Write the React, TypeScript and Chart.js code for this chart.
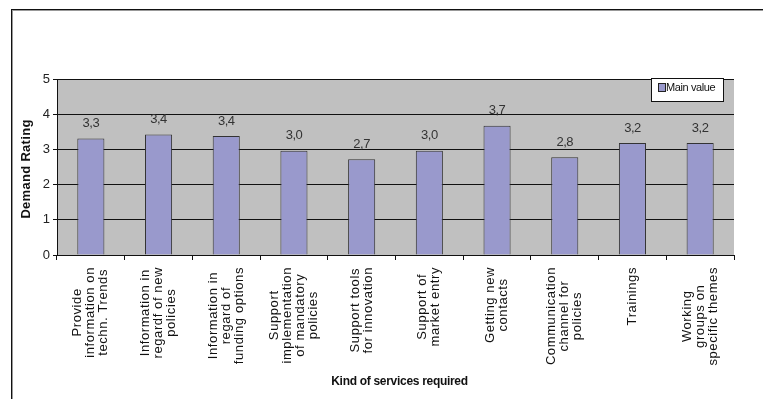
import React, { useEffect, useRef } from "react";
import { Chart, registerables } from "chart.js";

Chart.register(...registerables);

const categories: string[][] = [
  ["Provide", "information on", "techn. Trends"],
  ["Information in", "regardf of new", "policies"],
  ["Information in", "regard of", "funding options"],
  ["Support", "implementation", "of mandatory", "policies"],
  ["Support tools", "for innovation"],
  ["Support of", "market entry"],
  ["Getting new", "contacts"],
  ["Communication", "channel for", "policies"],
  ["Trainings"],
  ["Working", "groups on", "specific themes"],
];
const mainValues = [3.31, 3.42, 3.38, 2.96, 2.72, 2.96, 3.67, 2.78, 3.18, 3.18];
const seriesName = "Main value";
const yTitle = "Demand Rating";
const xTitle = "Kind of services required";
const yMin = 0;
const yMax = 5;
const yStep = 1;

const BAR_FILL = "#9999CC";
const PLOT_BG = "#C0C0C0";

const customPlugin = {
  id: "customDraw",
  beforeDraw(chart: any) {
    const { ctx, chartArea } = chart;
    ctx.save();
    ctx.fillStyle = "#ffffff";
    ctx.fillRect(0, 0, chart.width, chart.height);
    ctx.fillStyle = "#111111";
    ctx.fillRect(11, 9, 1, chart.height);
    ctx.fillRect(11, 9, chart.width, 1);
    ctx.fillStyle = "#999999";
    ctx.fillRect(12, 10, 1, chart.height);
    ctx.fillRect(12, 10, chart.width, 1);
    ctx.fillStyle = PLOT_BG;
    ctx.fillRect(
      chartArea.left,
      chartArea.top,
      chartArea.right - chartArea.left,
      chartArea.bottom - chartArea.top
    );
    ctx.restore();
  },
  afterDatasetsDraw(chart: any) {
    const { ctx } = chart;
    const meta = chart.getDatasetMeta(0);
    ctx.save();
    ctx.font = "13px Arial, 'Liberation Sans', sans-serif";
    (ctx as any).letterSpacing = "-0.5px";
    ctx.fillStyle = "#333333";
    ctx.textAlign = "center";
    ctx.textBaseline = "middle";
    meta.data.forEach((bar: any, i: number) => {
      const txt = mainValues[i].toFixed(1).replace(".", ",");
      ctx.fillText(txt, bar.x, bar.y - 15);
    });
    ctx.restore();
  },
  afterDraw(chart: any) {
    const { ctx, chartArea } = chart;
    const xs = chart.scales.x;
    ctx.save();
    ctx.font = "13px Arial, 'Liberation Sans', sans-serif";
    (ctx as any).letterSpacing = "0.6px";
    ctx.fillStyle = "#111111";
    ctx.textAlign = "center";
    ctx.textBaseline = "middle";
    const lh = 13;
    categories.forEach((lines, i) => {
      const cx = xs.getPixelForValue(i);
      let maxW = 0;
      lines.forEach((l) => {
        maxW = Math.max(maxW, ctx.measureText(l).width);
      });
      ctx.save();
      ctx.translate(cx, xs.top + 12);
      ctx.rotate(-Math.PI / 2);
      const n = lines.length;
      lines.forEach((l, k) => {
        ctx.fillText(l, -maxW / 2, (k - (n - 1) / 2) * lh);
      });
      ctx.restore();
    });
    ctx.restore();

    ctx.save();
    ctx.fillStyle = "#111111";
    ctx.textAlign = "center";
    ctx.textBaseline = "middle";
    ctx.font = "bold 12px Arial, 'Liberation Sans', sans-serif";
    (ctx as any).letterSpacing = "-0.3px";
    ctx.fillText(xTitle, (chartArea.left + chartArea.right) / 2 + 4, 382);
    ctx.translate(26, (chartArea.top + chartArea.bottom) / 2 + 2);
    ctx.rotate(-Math.PI / 2);
    ctx.font = "bold 13px Arial, 'Liberation Sans', sans-serif";
    (ctx as any).letterSpacing = "0.3px";
    ctx.fillText(yTitle, 0, 0);
    ctx.restore();

    ctx.save();
    const lx = 651.5;
    const ly = 78.5;
    ctx.fillStyle = "#ffffff";
    ctx.fillRect(lx, ly, 72, 23);
    ctx.strokeStyle = "#111111";
    ctx.lineWidth = 1;
    ctx.strokeRect(lx, ly, 72, 23);
    ctx.fillStyle = BAR_FILL;
    ctx.fillRect(658.5, 83.5, 7, 8);
    ctx.strokeStyle = "#222222";
    ctx.strokeRect(658.5, 83.5, 7, 8);
    ctx.fillStyle = "#111111";
    ctx.font = "11px Arial, 'Liberation Sans', sans-serif";
    (ctx as any).letterSpacing = "-0.4px";
    ctx.textAlign = "left";
    ctx.textBaseline = "middle";
    ctx.fillText(seriesName, 666, 88);
    ctx.restore();
  },
};

export default function App() {
  const ref = useRef<HTMLCanvasElement | null>(null);
  useEffect(() => {
    if (!ref.current) return;
    const chart = new Chart(ref.current, {
      type: "bar",
      data: {
        labels: categories.map((c) => c.join(" ")),
        datasets: [
          {
            label: seriesName,
            data: mainValues,
            backgroundColor: BAR_FILL,
            borderColor: "#333333",
            borderWidth: 1,
            barPercentage: 0.4,
            categoryPercentage: 1,
          },
        ],
      },
      options: {
        responsive: false,
        animation: false,
        devicePixelRatio: 1,
        layout: { padding: { left: 0, right: 29, top: 79, bottom: 0 } },
        plugins: {
          legend: { display: false },
          tooltip: { enabled: false },
          title: { display: false },
        },
        scales: {
          x: {
            type: "category",
            offset: true,
            afterFit: (s: any) => {
              s.height = 144;
            },
            grid: {
              offset: true,
              drawOnChartArea: false,
              drawTicks: true,
              tickLength: 5,
              color: "#111111",
            },
            border: { display: true, color: "#111111", width: 1 },
            ticks: { display: false },
          },
          y: {
            min: yMin,
            max: yMax,
            afterFit: (s: any) => {
              s.width = 57;
            },
            grid: {
              color: "#111111",
              lineWidth: 1,
              drawTicks: true,
              tickLength: 4,
            },
            border: { display: true, color: "#111111", width: 1 },
            ticks: {
              stepSize: yStep,
              padding: 3,
              color: "#222222",
              font: { family: "Arial, 'Liberation Sans', sans-serif", size: 13 },
            },
          },
        },
      },
      plugins: [customPlugin],
    });
    return () => chart.destroy();
  }, []);
  return (
    <div style={{ position: "fixed", left: 0, top: 0, width: 763, height: 399, background: "#fff" }}>
      <canvas ref={ref} width={763} height={399} style={{ display: "block", width: 763, height: 399 }} />
    </div>
  );
}
